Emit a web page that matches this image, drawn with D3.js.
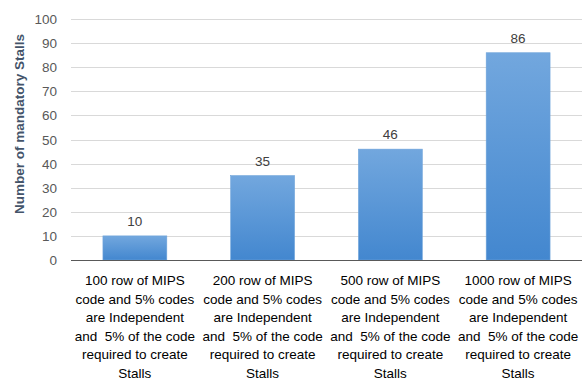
<!DOCTYPE html>
<html lang="en">
<head>
<meta charset="UTF-8">
<title>Mandatory stalls</title>
<script src="https://cdn.jsdelivr.net/npm/d3@7"></script>
<style>
  body { margin: 0; background: #fff; }
  text { font-family: "Liberation Sans", Arial, sans-serif; }
</style>
</head>
<body>
<script>
const categories = [
  ["100 row of MIPS", "code and 5% codes", "are Independent", "and  5% of the code", "required to create", "Stalls"],
  ["200 row of MIPS", "code and 5% codes", "are Independent", "and  5% of the code", "required to create", "Stalls"],
  ["500 row of MIPS", "code and 5% codes", "are Independent", "and  5% of the code", "required to create", "Stalls"],
  ["1000 row of MIPS", "code and 5% codes", "are Independent", "and  5% of the code", "required to create", "Stalls"]
];
const stalls = [10, 35, 46, 86];
const yTicks = [0, 10, 20, 30, 40, 50, 60, 70, 80, 90, 100];

const width = 587, height = 383;
const plotLeft = 71, plotRight = 582, plotTop = 19, plotBottom = 260;

const svg = d3.select("body").append("svg").attr("width", width).attr("height", height);

const defs = svg.append("defs");
const grad = defs.append("linearGradient").attr("id", "barGrad")
  .attr("x1", 0).attr("y1", 0).attr("x2", 0).attr("y2", 1);
grad.append("stop").attr("offset", "0%").attr("stop-color", "#72a7de");
grad.append("stop").attr("offset", "100%").attr("stop-color", "#4387cf");

const x = d3.scaleBand().domain(d3.range(stalls.length)).range([plotLeft, plotRight]).paddingInner(0.5).paddingOuter(0.25);
const y = d3.scaleLinear().domain([0, 100]).range([plotBottom, plotTop]);

// gridlines
svg.append("g").selectAll("line")
  .data(yTicks.filter(d => d > 0))
  .join("line")
  .attr("x1", plotLeft).attr("x2", plotRight)
  .attr("y1", d => Math.round(y(d)) + 0.5).attr("y2", d => Math.round(y(d)) + 0.5)
  .attr("stroke", "#d9d9d9");

// y tick labels
svg.append("g").selectAll("text")
  .data(yTicks)
  .join("text")
  .attr("x", 57).attr("y", d => y(d) + 5)
  .attr("text-anchor", "end")
  .attr("font-size", 13.5)
  .attr("fill", "#595959")
  .text(d => d);

// bars
svg.append("g").selectAll("rect")
  .data(stalls)
  .join("rect")
  .attr("x", (d, i) => x(i))
  .attr("width", x.bandwidth())
  .attr("y", d => y(d))
  .attr("height", d => y(0) - y(d))
  .attr("fill", "url(#barGrad)")
  .attr("stroke", "#6ea3da")
  .attr("stroke-width", 0.6);

// value labels
svg.append("g").selectAll("text")
  .data(stalls)
  .join("text")
  .attr("x", (d, i) => x(i) + x.bandwidth() / 2)
  .attr("y", d => y(d) - 10)
  .attr("text-anchor", "middle")
  .attr("font-size", 13.5)
  .attr("fill", "#404040")
  .text(d => d);

// baseline
svg.append("line")
  .attr("x1", plotLeft).attr("x2", plotRight)
  .attr("y1", plotBottom + 0.5).attr("y2", plotBottom + 0.5)
  .attr("stroke", "#595959");

// category labels
const cat = svg.append("g").selectAll("text")
  .data(categories)
  .join("text")
  .attr("text-anchor", "middle")
  .attr("font-size", 13.5)
  .attr("fill", "#000");
cat.selectAll("tspan")
  .data((d, i) => d.map(s => ({ s, i })))
  .join("tspan")
  .attr("x", d => x(d.i) + x.bandwidth() / 2)
  .attr("y", (d, j) => 285 + j * 18.6)
  .attr("xml:space", "preserve")
  .text(d => d.s);

// y axis title
svg.append("text")
  .attr("transform", "translate(24,124) rotate(-90)")
  .attr("text-anchor", "middle")
  .attr("font-family", "'Open Sans', sans-serif")
  .attr("font-size", 13.5)
  .attr("font-weight", "bold")
  .attr("fill", "#44546a")
  .text("Number of mandatory Stalls");
</script>
</body>
</html>
